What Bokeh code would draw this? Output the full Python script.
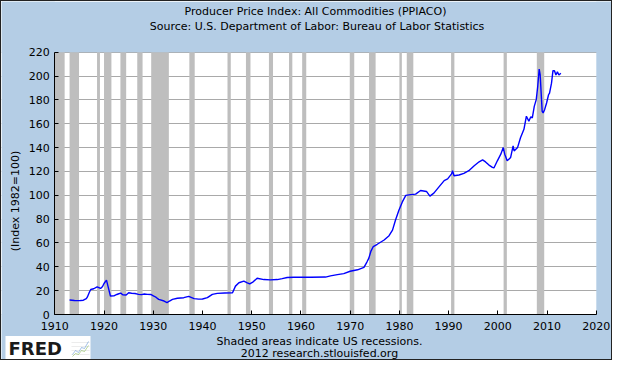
import math
from bokeh.plotting import figure
from bokeh.models import (Label, BoxAnnotation, PolyAnnotation, SingleIntervalTicker,
                          Range1d, ColumnDataSource)
from bokeh.embed import file_html
from bokeh.resources import INLINE

# ---------------- data ----------------
years = [1913.0, 1913.5, 1914.0, 1914.6, 1915.2, 1915.8, 1916.4, 1916.6, 1917.0, 1917.3,
         1917.9, 1918.6, 1919.3, 1919.7, 1920.0, 1920.5, 1920.8, 1921.3, 1922.0, 1922.6,
         1923.0, 1923.4, 1923.8, 1924.5, 1925.0, 1925.6, 1926.3, 1927.0, 1927.6, 1928.2,
         1928.8, 1929.5, 1930.1, 1930.6, 1931.1, 1932.2, 1932.8, 1933.3, 1933.9, 1934.9,
         1936.2, 1937.2, 1938.3, 1939.2, 1940.0, 1941.0, 1942.0, 1943.0, 1944.5, 1946.1,
         1946.7, 1947.4, 1948.4, 1949.1, 1949.6, 1950.3, 1951.1, 1952.5, 1953.8, 1955.2,
         1956.2, 1957.2, 1958.6, 1960.0, 1962.0, 1965.0, 1966.0, 1967.4, 1968.7, 1970.0,
         1971.5, 1972.8, 1973.4, 1973.8, 1974.2, 1974.7, 1975.5, 1976.9, 1977.9, 1978.6,
         1979.2, 1979.9, 1980.6, 1981.3, 1982.3, 1983.3, 1984.3, 1985.5, 1986.2, 1987.0,
         1988.0, 1989.1, 1989.8, 1990.6, 1990.8, 1991.1, 1992.1, 1993.1, 1994.1, 1995.2,
         1996.2, 1996.9, 1997.5, 1998.2, 1998.9, 1999.2, 1999.9, 2000.6, 2001.1, 2001.4,
         2001.9, 2002.6, 2003.1, 2003.3, 2004.0, 2004.6, 2005.3, 2005.8, 2006.3, 2006.7,
         2007.0, 2007.4, 2007.8, 2008.1, 2008.4, 2008.6, 2008.8, 2009.0, 2009.2, 2009.5,
         2009.9, 2010.3, 2010.5, 2010.9, 2011.2, 2011.5, 2011.8, 2012.1, 2012.4, 2012.8]
ppi = [12.1, 12.0, 11.7, 11.6, 11.7, 12.0, 13.3, 14.5, 18.5, 21.0,
       21.6, 23.2, 21.9, 23.5, 26.0, 28.8, 23.8, 15.5, 15.6, 16.8,
       17.4, 17.9, 16.6, 16.4, 18.2, 17.8, 17.6, 16.9, 16.7, 17.2,
       16.9, 16.8, 15.5, 14.3, 12.7, 11.3, 10.0, 11.3, 12.7, 13.6,
       14.1, 15.2, 13.3, 12.9, 13.0, 14.1, 16.9, 17.7, 18.0, 18.3,
       23.8, 26.6, 28.0, 26.6, 25.7, 27.4, 30.4, 29.3, 29.0, 29.3,
       30.1, 31.0, 31.3, 31.3, 31.3, 31.4, 32.4, 33.4, 34.3, 36.3,
       37.5, 39.6, 44.0, 47.3, 52.9, 57.0, 58.9, 62.5, 66.1, 70.8,
       79.1, 87.4, 94.4, 99.9, 100.5, 101.0, 104.0, 103.2, 99.3, 101.8,
       106.8, 112.3, 113.7, 117.9, 120.6, 116.4, 117.0, 118.4, 120.6, 124.8,
       128.1, 129.7, 128.0, 125.3, 123.4, 122.9, 128.9, 134.5, 140.0, 134.5,
       128.9, 131.7, 141.4, 137.2, 140.0, 148.3, 155.3, 166.3, 162.1, 165.8,
       164.9, 174.6, 180.2, 191.2, 205.9, 200.9, 185.7, 170.4, 169.1, 171.8,
       177.4, 184.3, 185.7, 194.0, 204.5, 204.5, 200.9, 203.6, 200.9, 202.3]

# NBER recessions (peak, trough) as decimal years
rec_start = [1910.00, 1913.00, 1918.58, 1920.00, 1923.33, 1926.75, 1929.58, 1937.33,
             1945.08, 1948.83, 1953.50, 1957.58, 1960.25, 1969.92, 1973.83, 1980.00,
             1981.50, 1990.50, 2001.17, 2007.92]
rec_end = [1912.00, 1914.92, 1919.17, 1921.50, 1924.50, 1927.83, 1933.17, 1938.42,
           1945.75, 1949.75, 1954.33, 1958.25, 1961.08, 1970.83, 1975.17, 1980.50,
           1982.83, 1991.17, 2001.83, 2009.42]

x_min, x_max = 1910, 2020
y_min, y_max = 0, 220
x_tick_step, y_tick_step = 10, 20

title1 = "Producer Price Index: All Commodities (PPIACO)"
title2 = "Source: U.S. Department of Labor: Bureau of Labor Statistics"
y_title = "(Index 1982=100)"
note1 = "Shaded areas indicate US recessions."
note2 = "2012 research.stlouisfed.org"
logo_text = "FRED"

# ---------------- layout (pixels on the canvas, y measured downward) ----------------
W, H = 612, 360                     # + 1px border on each side = 614 x 362
PX_LEFT, PX_RIGHT = 53.3, 594.8     # canvas x of x_min / x_max
PX_TOP, PX_BOTTOM = 50.7, 313.0     # canvas y of y_max / y_min

xs_ = (PX_RIGHT - PX_LEFT) / (x_max - x_min)
ys_ = (PX_BOTTOM - PX_TOP) / (y_max - y_min)
x_start = x_min - PX_LEFT / xs_
x_end = x_max + (W - PX_RIGHT) / xs_
y_end = y_max + PX_TOP / ys_
y_start = y_min - (H - PX_BOTTOM) / ys_

BG = "#b4cde5"
FONT = "DejaVu Sans"

p = figure(width=W, height=H, output_backend="svg", toolbar_location=None,
           x_range=Range1d(x_start, x_end), y_range=Range1d(y_start, y_end),
           min_border=0)
p.title.visible = False
p.border_fill_color = BG
p.background_fill_color = "white"
p.outline_line_color = None
p.stylesheets = [":host { border: 1px solid #222222; }"]

# recession shading
rec_src = ColumnDataSource(dict(left=rec_start, right=rec_end,
                                bottom=[y_min] * len(rec_start), top=[y_max] * len(rec_start)))
p.quad(left="left", right="right", bottom="bottom", top="top", source=rec_src,
       fill_color="#bebebe", line_color=None)

# series line
p.line(years, ppi, line_color="#0000ff", line_width=1.4)

# blue surround outside the plotting area (covers grid lines there)
for kw in (dict(right=x_min), dict(left=x_max), dict(bottom=y_max), dict(top=y_min)):
    p.add_layout(BoxAnnotation(fill_color=BG, fill_alpha=1.0, line_alpha=0.0,
                               level="glyph", **kw))

# axes placed on the plotting area edges
p.xaxis.fixed_location = y_min
p.yaxis.fixed_location = x_min
p.xaxis.bounds = (x_min, x_max)
p.yaxis.bounds = (y_min, y_max)
for ax in (p.xaxis, p.yaxis):
    ax.axis_line_color = "black"
    ax.axis_line_width = 1
    ax.major_tick_line_color = "black"
    ax.major_tick_in = 4
    ax.major_tick_out = 0
    ax.minor_tick_line_color = None
    ax.major_label_text_font = FONT
    ax.major_label_text_font_size = "11px"
    ax.major_label_text_color = "black"
p.xaxis.ticker = SingleIntervalTicker(interval=x_tick_step, num_minor_ticks=0)
p.yaxis.ticker = SingleIntervalTicker(interval=y_tick_step, num_minor_ticks=0)
p.xaxis.major_label_standoff = 7
p.yaxis.major_label_standoff = 5

p.xgrid.grid_line_color = None
p.ygrid.grid_line_color = "#a9a9a9"
p.ygrid.grid_line_width = 1

# texts (screen units: x from the left, y from the bottom of the canvas)
def add_label(txt, x, y_down, size="11px", angle=0.0, style="normal", color="black",
              align="center"):
    p.add_layout(Label(x=x, y=H - y_down, x_units="screen", y_units="screen", text=txt,
                       text_font=FONT, text_font_size=size, text_font_style=style,
                       text_color=color, text_align=align, text_baseline="middle",
                       angle=angle))

add_label(title1, 314, 10.4)
add_label(title2, 315.5, 24.6)
add_label(note1, 318, 340.0)
add_label(note2, 318, 352.2)
add_label(y_title, 13.7, 199.5, angle=math.pi / 2)

# FRED logo
p.add_layout(BoxAnnotation(left=4, right=89, bottom=H - 359.0, top=H - 334.5,
                           left_units="screen", right_units="screen",
                           bottom_units="screen", top_units="screen",
                           fill_color="white", fill_alpha=1.0, line_alpha=0.0))
add_label(logo_text, 7.0, 346.8, size="18px", style="bold", color="#1a1a1a", align="left")

def poly_line(xs, ys_down, color, width=1.0):
    sy = [H - v for v in ys_down]
    p.add_layout(PolyAnnotation(xs=xs + xs[::-1], ys=sy + sy[::-1],
                                xs_units="screen", ys_units="screen",
                                fill_alpha=0.0, line_color=color, line_width=width))

for gy in (341, 345, 349, 353):
    poly_line([70, 88], [gy, gy], "#dcdcdc", 1)
poly_line([71, 74, 77, 80, 83, 87], [353, 349, 351, 346, 347, 340], "#5b8fd0", 1)
poly_line([71, 74, 77, 80, 83, 87], [355, 352, 353, 349, 350, 344], "#7fb24a", 1)

open("out.html", "w").write(file_html(p, INLINE))
